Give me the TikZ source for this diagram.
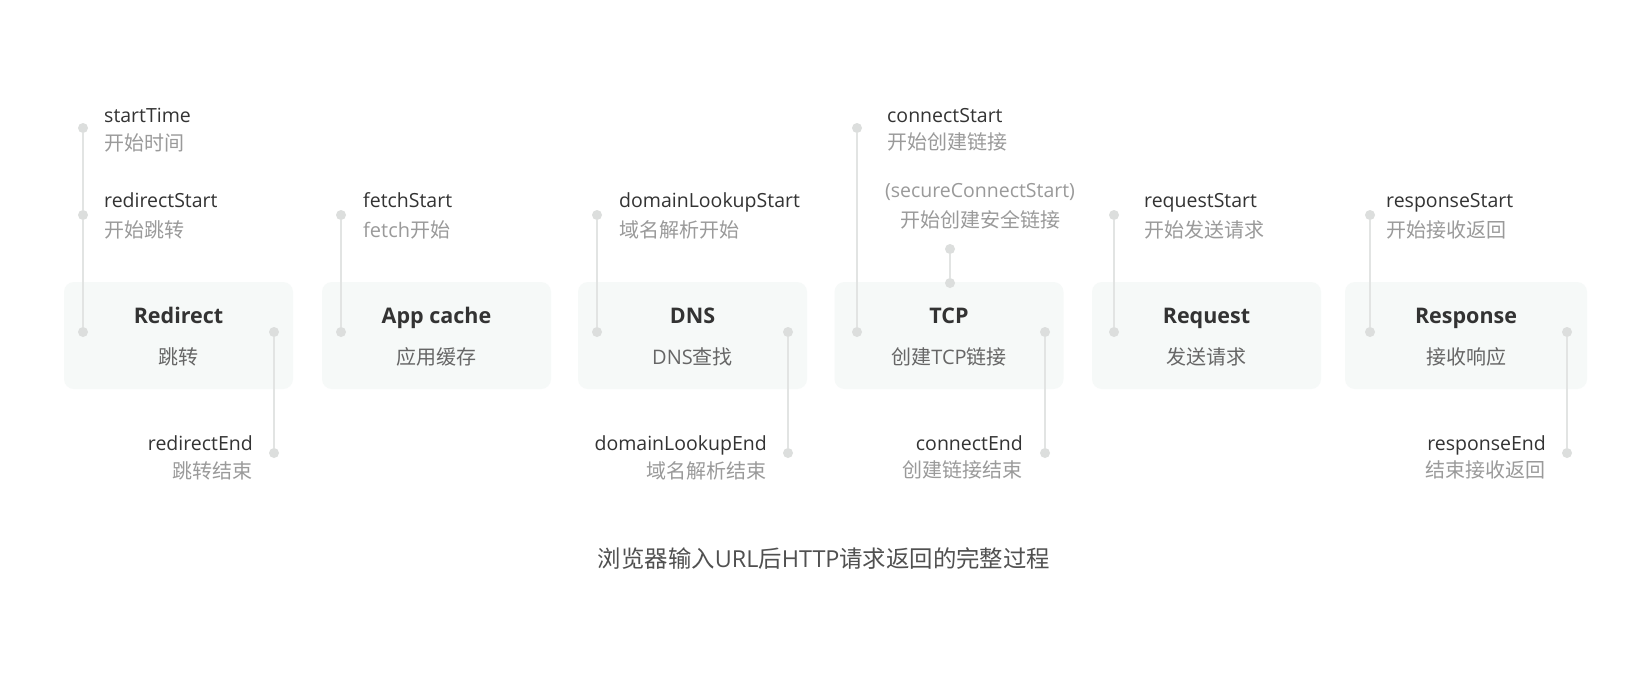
\documentclass[tikz,border=0pt]{standalone}
\usepackage{fontspec}
\setmainfont{Open Sans}
\newfontfamily\cjk{Noto Sans CJK SC}
\newfontfamily\lf{Open Sans}
\definecolor{dk}{HTML}{333333}
\definecolor{lg}{HTML}{9A9A9A}
\definecolor{mg}{HTML}{666666}
\definecolor{tg}{HTML}{505050}
\definecolor{dotc}{HTML}{DCDEDD}
\definecolor{linec}{HTML}{E2E4E3}
\definecolor{boxc}{HTML}{F6F9F8}
\begin{document}
\begin{tikzpicture}[x=1pt,y=-1pt,
  lat/.style={font=\lf\fontsize{19.5}{21}\selectfont, text=dk, inner sep=0pt},
  cn/.style={font=\cjk\fontsize{20}{22}\selectfont, text=lg, inner sep=0pt},
  dotn/.style={circle, fill=dotc, minimum size=10pt, inner sep=0pt},
  stage/.style={rounded corners=10pt, fill=boxc, minimum width=229pt, minimum height=107pt, inner sep=0pt},
  stitle/.style={font=\lf\bfseries\fontsize{21.5}{24}\selectfont, text=dk, inner sep=0pt, anchor=base},
  ssub/.style={font=\cjk\fontsize{20}{22}\selectfont, text=mg, inner sep=0pt},
  link/.style={draw=linec, line width=2pt}]
\useasboundingbox[fill=white] (0,0) rectangle (1645,694);

% stage boxes
\node[stage] (bRed) at (178.5,335.5) {};
\node[stage] (bApp) at (436.5,335.5) {};
\node[stage] (bDns) at (692.5,335.5) {};
\node[stage] (bTcp) at (949,335.5) {};
\node[stage] (bReq) at (1206.5,335.5) {};
\node[stage, minimum width=242pt] (bRes) at (1466,335.5) {};

% stage titles
\node[stitle] (tRed) at (178.5,323.5) {Redirect};
\node[ssub] (sRed) at (178.5,357) {跳转};
\node[stitle] (tApp) at (436.5,323.5) {App cache};
\node[ssub] (sApp) at (436.5,357) {应用缓存};
\node[stitle] (tDns) at (692.5,323.5) {DNS};
\node[ssub] (sDns) at (692.5,357) {{\lf DNS}查找};
\node[stitle] (tTcp) at (949,323.5) {TCP};
\node[ssub] (sTcp) at (949,357) {创建{\lf TCP}链接};
\node[stitle] (tReq) at (1206.5,323.5) {Request};
\node[ssub] (sReq) at (1206.5,357) {发送请求};
\node[stitle] (tRes) at (1466,323.5) {Response};
\node[ssub] (sRes) at (1466,357) {接收响应};

% dots
\node[dotn] (r1) at (83,128) {};
\node[dotn] (r2) at (83,215) {};
\node[dotn] (r3) at (83,332) {};
\node[dotn] (r4) at (274,332) {};
\node[dotn] (r5) at (274,453) {};
\node[dotn] (a1) at (341,215) {};
\node[dotn] (a2) at (341,332) {};
\node[dotn] (n1) at (597,215) {};
\node[dotn] (n2) at (597,332) {};
\node[dotn] (n3) at (788,332) {};
\node[dotn] (n4) at (788,453) {};
\node[dotn] (c1) at (857,128) {};
\node[dotn] (c2) at (857,332) {};
\node[dotn] (c3) at (1045,332) {};
\node[dotn] (c4) at (1045,453) {};
\node[dotn] (s1) at (950,249) {};
\node[dotn] (s2) at (950,283) {};
\node[dotn] (q1) at (1114,215) {};
\node[dotn] (q2) at (1114,332) {};
\node[dotn] (p1) at (1370,215) {};
\node[dotn] (p2) at (1370,332) {};
\node[dotn] (p3) at (1567,332) {};
\node[dotn] (p4) at (1567,453) {};

% connectors
\draw[link] (r1) -- (r2);
\draw[link] (r2) -- (r3);
\draw[link] (r4) -- (r5);
\draw[link] (a1) -- (a2);
\draw[link] (n1) -- (n2);
\draw[link] (n3) -- (n4);
\draw[link] (c1) -- (c2);
\draw[link] (c3) -- (c4);
\draw[link] (s1) -- (s2);
\draw[link] (q1) -- (q2);
\draw[link] (p1) -- (p2);
\draw[link] (p3) -- (p4);

% labels
\node[lat, anchor=base west] (lST) at (104,122) {startTime};
\node[cn, anchor=west] (cST) at (104,143) {开始时间};
\node[lat, anchor=base west] (lRS) at (104,207.5) {redirectStart};
\node[cn, anchor=west] (cRS) at (104,230) {开始跳转};
\node[lat, anchor=base east] (lRE) at (253,450.5) {redirectEnd};
\node[cn, anchor=east] (cRE) at (253,471) {跳转结束};
\node[lat, anchor=base west] (lFS) at (363,207.5) {fetchStart};
\node[cn, anchor=west] (cFS) at (363,230) {{\lf fetch}开始};
\node[lat, anchor=base west] (lDS) at (619,207.5) {domainLookupStart};
\node[cn, anchor=west] (cDS) at (619,230) {域名解析开始};
\node[lat, anchor=base east] (lDE) at (767,450.5) {domainLookupEnd};
\node[cn, anchor=east] (cDE) at (767,471) {域名解析结束};
\node[lat, anchor=base west] (lCS) at (887,122) {connectStart};
\node[cn, anchor=west] (cCS) at (887,142) {开始创建链接};
\node[lat, text=lg, anchor=base] (lSC) at (980,197.5) {(secureConnectStart)};
\node[cn] (cSC) at (980,220) {开始创建安全链接};
\node[lat, anchor=base east] (lCE) at (1023,450) {connectEnd};
\node[cn, anchor=east] (cCE) at (1023,470) {创建链接结束};
\node[lat, anchor=base west] (lQS) at (1144,207.5) {requestStart};
\node[cn, anchor=west] (cQS) at (1144,230) {开始发送请求};
\node[lat, anchor=base west] (lPS) at (1386,207.5) {responseStart};
\node[cn, anchor=west] (cPS) at (1386,229.5) {开始接收返回};
\node[lat, anchor=base east] (lPE) at (1546,450.5) {responseEnd};
\node[cn, anchor=east] (cPE) at (1546,470) {结束接收返回};

% caption
\node[font=\cjk\fontsize{23.4}{26}\selectfont, text=tg, inner sep=0pt] (cap) at (824,558.5) {浏览器输入{\lf URL}后{\lf HTTP}请求返回的完整过程};
\end{tikzpicture}
\end{document}
